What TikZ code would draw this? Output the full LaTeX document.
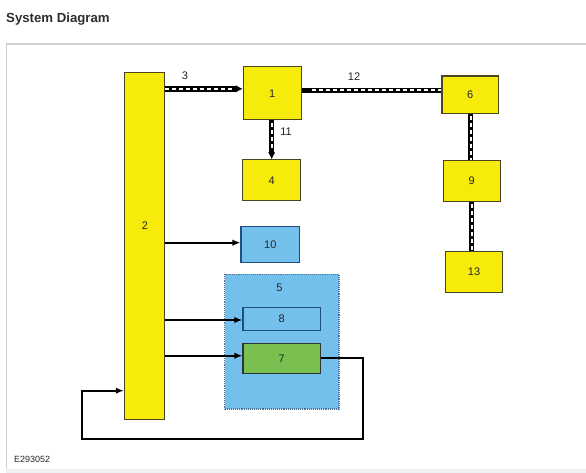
\documentclass[tikz,border=0pt]{standalone}
\usepackage{fontspec}
\setmainfont{Liberation Sans}
\usetikzlibrary{arrows.meta,calc}
\definecolor{ybox}{HTML}{F6EB0A}
\definecolor{bbox}{HTML}{74C0EC}
\definecolor{gbox}{HTML}{79C051}
\definecolor{ybord}{HTML}{4A4620}
\definecolor{bbord}{HTML}{1F4F7A}
\definecolor{frame}{HTML}{D0D0D0}
\definecolor{barcol}{HTML}{EEF1F4}
\definecolor{titlecol}{HTML}{2E2E2E}
\tikzset{
  box/.style={draw, line width=1.1pt, inner sep=0pt, font=\fontsize{11}{13}\selectfont, text=black!85},
  ybx/.style={box, fill=ybox, draw=ybord},
  bbx/.style={box, fill=bbox, draw=bbord},
  gbx/.style={box, fill=gbox, draw=black!80},
  lbl/.style={font=\fontsize{11}{13}\selectfont, text=black!85, inner sep=0pt},
  conn/.style={line width=2pt, -{Latex[length=8pt,width=6.5pt]}},
  busblack/.style={line width=5.5pt, draw=black},
  buswhite/.style={line width=2pt, draw=white, dash pattern=on 4pt off 3pt},
}
\begin{document}
\begin{tikzpicture}[x=1pt,y=-1pt]
\useasboundingbox (0,0) rectangle (586,473);
\fill[white] (0,0) rectangle (586,473);
% page frame
\fill[barcol] (6.4,469) rectangle (586,473);
\draw[frame, line width=1.2pt] (6.4,469) -- (6.4,44) -- (590,44);
\node[anchor=base west, inner sep=0pt, text=titlecol, font=\fontsize{13.2}{15}\selectfont\bfseries] (title) at (6,23) {System Diagram};
% boxes
\node[ybx, minimum width=40.4pt, minimum height=346.7pt] (b2) at (144.6,245.7) {};
\node[lbl] (l2) at (145,226) {2};
\node[ybx, minimum width=57.7pt, minimum height=53.3pt] (b1) at (272.2,93.3) {1};
\node[ybx, minimum width=56.5pt, minimum height=37.3pt] (b6) at (470.2,94.7) {6};
\node[ybx, minimum width=58pt, minimum height=40.7pt] (b4) at (271.7,180.3) {4};
\node[ybx, minimum width=57pt, minimum height=41pt] (b9) at (471.8,181.2) {9};
\node[bbx, minimum width=58.7pt, minimum height=35.6pt] (b10) at (270.3,244.5) {10};
\node[ybx, minimum width=56.6pt, minimum height=41.2pt] (b13) at (474,271.9) {13};
\node[box, fill=bbox, draw=bbord!80, densely dotted, line width=1.2pt, minimum width=114.4pt, minimum height=134.7pt] (b5) at (281.8,341.7) {};
\node[lbl] (l5) at (279.5,287.3) {5};
\node[bbx, minimum width=77.6pt, minimum height=22.6pt] (b8) at (281.8,319) {8};
\node[gbx, minimum width=77.6pt, minimum height=30pt] (b7) at (281.8,358.3) {7};
% bus connectors
\coordinate (s3) at ($(b2.north east)+(0,17)$);
\coordinate (e3) at (b1.west |- s3);
\draw[busblack, -{Latex[length=7pt,width=7.5pt]}] (s3) -- (e3);
\draw[buswhite] (s3) -- ($(e3)+(-10,0)$);
\node[lbl] (l3) at (185,76) {3};
\coordinate (s12) at ($(b1.north east)+(0,24.3)$);
\coordinate (e12) at (b6.west |- s12);
\draw[busblack] (s12) -- (e12);
\draw[buswhite] ($(s12)+(10,0)$) -- (e12);
\node[lbl] (l12) at (354,76.7) {12};
\coordinate (s11) at (b1.south -| 271.7,0);
\coordinate (e11) at (b4.north -| 271.7,0);
\draw[busblack, -{Latex[length=7pt,width=7.5pt]}] (s11) -- (e11);
\draw[buswhite] ($(s11)+(0,3)$) -- ($(e11)+(0,-10)$);
\node[lbl] (l11) at (286,131.7) {11};
\coordinate (s69) at (b6.south -| 470.7,0);
\coordinate (e69) at (b9.north -| 470.7,0);
\draw[busblack] (s69) -- (e69);
\draw[buswhite] ($(s69)+(0,2)$) -- (e69);
\coordinate (s913) at (b9.south -| 471.7,0);
\coordinate (e913) at (b13.north -| 471.7,0);
\draw[busblack] (s913) -- (e913);
\draw[buswhite] ($(s913)+(0,2)$) -- (e913);
% solid connectors
\coordinate (s10) at (b2.east |- 0,242.7);
\draw[conn] (s10) -- (b10.west |- s10);
\coordinate (s8) at (b2.east |- 0,320);
\draw[conn] (s8) -- (b8.west |- s8);
\coordinate (s7) at (b2.east |- 0,355.7);
\draw[conn] (s7) -- (b7.west |- s7);
\coordinate (fb) at (b2.west |- 0,390.7);
\draw[conn, line join=miter] (b7.east) -- (363.2,358.3) -- (363.2,439) -- (82.2,439) -- (82.2,390.7) -- (fb);
\node[anchor=base west, inner sep=0pt, font=\fontsize{9}{10}\selectfont, text=black!85] (code) at (13.8,462.5) {E293052};
\end{tikzpicture}
\end{document}
